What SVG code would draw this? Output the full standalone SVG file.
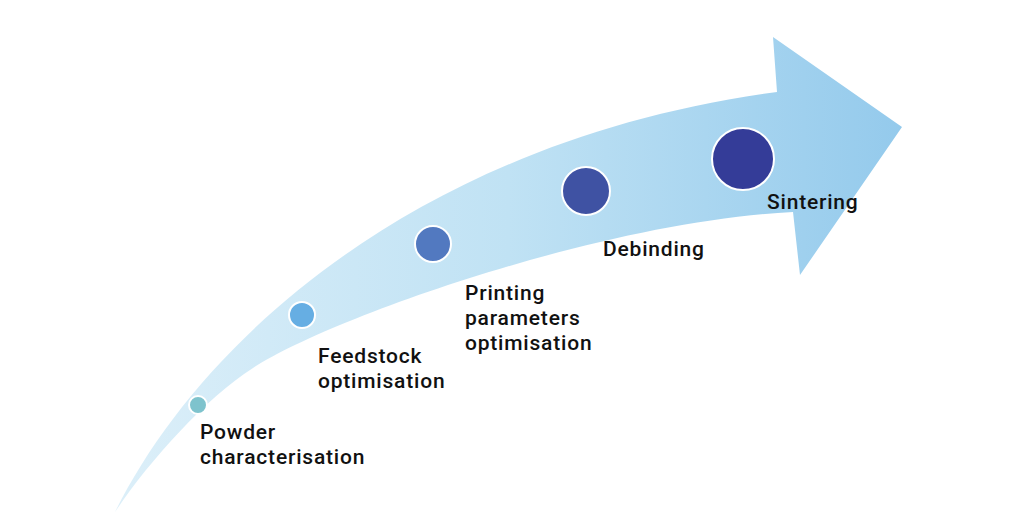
<svg xmlns="http://www.w3.org/2000/svg" width="1024" height="525" viewBox="0 0 1024 525">
  <defs>
    <linearGradient id="band" gradientUnits="userSpaceOnUse" x1="115" y1="0" x2="902" y2="0">
      <stop offset="0" stop-color="#dceff9"/>
      <stop offset="0.5" stop-color="#c0e2f4"/>
      <stop offset="1" stop-color="#94caec"/>
    </linearGradient>
    <style>
      .lbl { font-family: Roboto, "Liberation Sans", sans-serif; font-weight: 500; font-size: 21px; letter-spacing: 0.8px; fill: #111111; }
      .dot { stroke: #ffffff; stroke-width: 2; }
    </style>
  </defs>
  <rect width="1024" height="525" fill="#ffffff"/>
  <g id="connectors">
    <path id="arrow" fill="url(#band)" d="M115,512 C200,340 420,140 777,92 L773,37 L902,127 L800,275 L793,212 C600,222 330,318 253,368 C205,399 150,460 115,512 Z"/>
  </g>
  <g id="node-powder">
    <circle class="dot" cx="198" cy="405" r="9" fill="#7ec3cd"/>
    <text class="lbl" x="200" y="439">Powder</text>
    <text class="lbl" x="200" y="464">characterisation</text>
  </g>
  <g id="node-feedstock">
    <circle class="dot" cx="302" cy="315" r="13" fill="#66aee3"/>
    <text class="lbl" x="318" y="363">Feedstock</text>
    <text class="lbl" x="318" y="388">optimisation</text>
  </g>
  <g id="node-printing">
    <circle class="dot" cx="433" cy="244" r="18" fill="#5279c0"/>
    <text class="lbl" x="465" y="300">Printing</text>
    <text class="lbl" x="465" y="325">parameters</text>
    <text class="lbl" x="465" y="350">optimisation</text>
  </g>
  <g id="node-debinding">
    <circle class="dot" cx="586" cy="191" r="24" fill="#3f52a3"/>
    <text class="lbl" x="603" y="256">Debinding</text>
  </g>
  <g id="node-sintering">
    <circle class="dot" cx="743" cy="159" r="31" fill="#343c98"/>
    <text class="lbl" x="767" y="209">Sintering</text>
  </g>
</svg>
